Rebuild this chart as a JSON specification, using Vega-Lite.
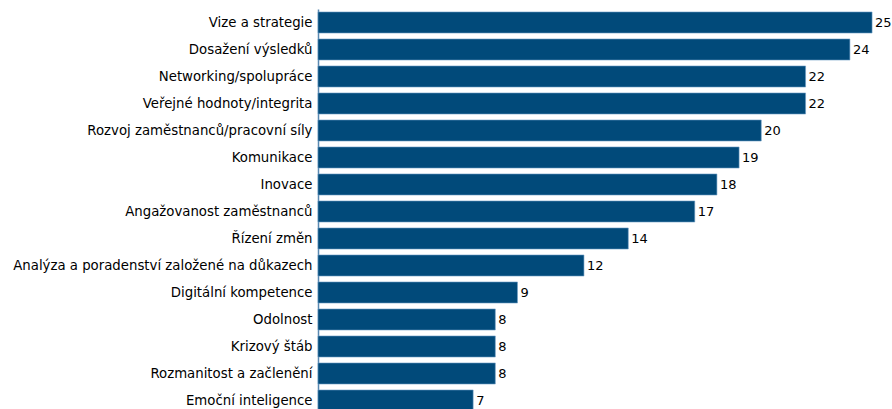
{
  "$schema": "https://vega.github.io/schema/vega-lite/v6.json",
  "width": 574,
  "height": 405,
  "autosize": {"type": "none"},
  "padding": {"left": 318, "top": 9, "right": 0, "bottom": 0},
  "background": "white",
  "data": {"values": [
    {"k": "Vize a strategie", "v": 25},
    {"k": "Dosažení výsledků", "v": 24},
    {"k": "Networking/spolupráce", "v": 22},
    {"k": "Veřejné hodnoty/integrita", "v": 22},
    {"k": "Rozvoj zaměstnanců/pracovní síly", "v": 20},
    {"k": "Komunikace", "v": 19},
    {"k": "Inovace", "v": 18},
    {"k": "Angažovanost zaměstnanců", "v": 17},
    {"k": "Řízení změn", "v": 14},
    {"k": "Analýza a poradenství založené na důkazech", "v": 12},
    {"k": "Digitální kompetence", "v": 9},
    {"k": "Odolnost", "v": 8},
    {"k": "Krizový štáb", "v": 8},
    {"k": "Rozmanitost a začlenění", "v": 8},
    {"k": "Emoční inteligence", "v": 7}
  ]},
  "encoding": {
    "y": {"field": "k", "type": "nominal", "sort": null,
      "scale": {"paddingInner": 0.22, "paddingOuter": 0.11},
      "axis": {"title": null, "ticks": false, "domain": true, "domainColor": "#5a88b0", "domainWidth": 1.5, "labelPadding": 6, "labelFont": "DejaVu Sans", "labelFontSize": 13.3, "labelFontWeight": "normal", "labelColor": "#000000", "labelLimit": 400}},
    "x": {"field": "v", "type": "quantitative", "scale": {"domain": [0, 25.9], "nice": false}, "axis": null}
  },
  "layer": [
    {"mark": {"type": "bar", "color": "#014a7a", "stroke": "#6d9cc4", "strokeWidth": 0.6}},
    {"mark": {"type": "text", "align": "left", "dx": 3, "font": "DejaVu Sans", "fontSize": 13, "fontWeight": "normal", "color": "#000000"},
      "encoding": {"text": {"field": "v", "type": "quantitative"}}}
  ],
  "config": {"view": {"stroke": null}}
}
